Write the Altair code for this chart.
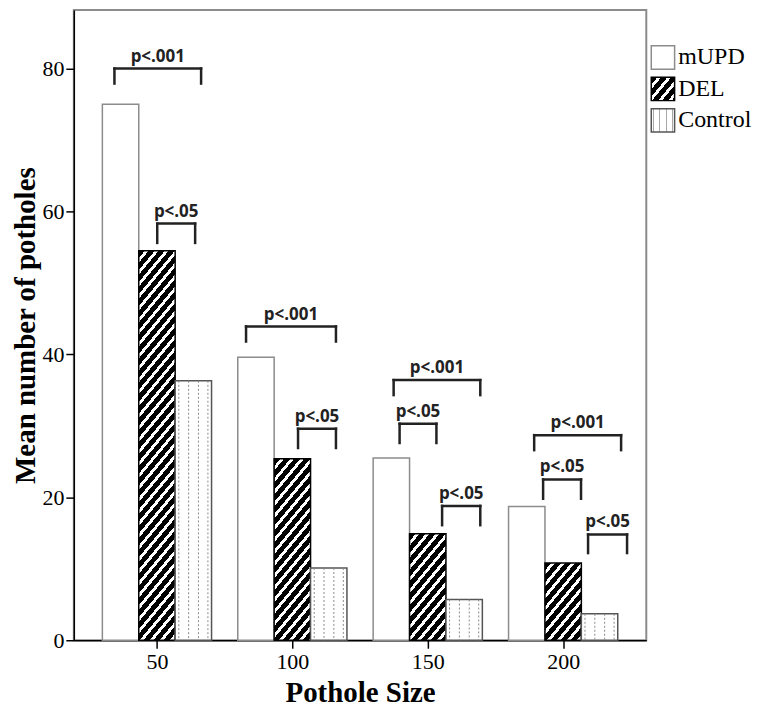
import altair as alt
import pandas as pd

# ---------------- data ----------------
sizes = [50, 100, 150, 200]
series = ["mUPD", "DEL", "Control"]
mupd = [75.0, 39.6, 25.5, 18.7]
deletion = [54.5, 25.4, 14.9, 10.8]
control = [36.3, 10.1, 5.7, 3.7]

# significance brackets (x in pothole-size units, y in mean-count units)
br_labels = ["p<.001", "p<.05", "p<.001", "p<.05", "p<.001", "p<.05", "p<.05", "p<.001", "p<.05", "p<.05"]
br_x1 = [34.3, 50.1, 82.9, 102.1, 137.4, 139.6, 155.3, 189.3, 192.6, 209.2]
br_x2 = [66.3, 64.1, 116.1, 116.1, 169.4, 153.2, 169.4, 221.4, 206.6, 223.6]
br_y = [80.0, 58.3, 43.9, 29.6, 36.4, 30.3, 18.8, 28.7, 22.5, 14.8]
br_leg = [77.9, 55.6, 41.8, 26.9, 34.3, 27.6, 16.1, 26.6, 19.8, 12.2]

# ---------------- layout / style ----------------
W, H = 574, 632
XDOM = [19.3, 230.7]
YDOM = [0, 88.2]
PX_X = W / (XDOM[1] - XDOM[0])
PX_Y = H / (YDOM[1] - YDOM[0])
BAR_W = 13.44
SERIF = "Liberation Serif"
LEG_SQ = 23.4


def stripe_grad(w, h, s=1.2, q=12.0, black_frac=0.62):
    """Diagonal '/' black/white stripes as a linear gradient in bbox units."""
    total = s * w + h
    k = total / (s * s * w * w + h * h)
    x2 = k * s * w
    y2 = k * h
    n = total / q
    stops = []
    i = 0
    while i < n:
        a = min(i / n, 1)
        b = min((i + black_frac) / n, 1)
        c = min((i + 1) / n, 1)
        stops += [{"offset": round(a, 5), "color": "black"}, {"offset": round(b, 5), "color": "black"}]
        if b < 1:
            stops += [{"offset": round(b, 5), "color": "white"}, {"offset": round(c, 5), "color": "white"}]
        i += 1
    return {"gradient": "linear", "x1": 0, "y1": 0, "x2": round(x2, 5), "y2": round(y2, 5), "stops": stops}


def vline_grad(w, fracs=(0.1, 0.37, 0.64, 0.9), color="#a8a8a8"):
    stops = [{"offset": 0, "color": "white"}]
    lw = 1.0 / w
    for f in fracs:
        stops += [{"offset": round(f - lw / 2, 4), "color": "white"},
                  {"offset": round(f - lw / 2, 4), "color": color},
                  {"offset": round(f + lw / 2, 4), "color": color},
                  {"offset": round(f + lw / 2, 4), "color": "white"}]
    stops.append({"offset": 1, "color": "white"})
    return {"gradient": "linear", "x1": 0, "y1": 0, "x2": 1, "y2": 0, "stops": stops}


values = {"mUPD": mupd, "DEL": deletion, "Control": control}
rows = []
for j, s in enumerate(series):
    for i, sz in enumerate(sizes):
        x0 = sz + (j - 1.5) * BAR_W
        rows.append({"series": s, "size": sz, "x0": x0, "x1": x0 + BAR_W, "value": values[s][i]})
bars = pd.DataFrame(rows)

ctrl_rows = []
for i, sz in enumerate(sizes):
    x0 = sz + 0.5 * BAR_W
    for f in (0.1, 0.37, 0.64, 0.9):
        ctrl_rows.append({"x": x0 + f * BAR_W, "value": control[i]})
ctrl_lines = pd.DataFrame(ctrl_rows)

br = pd.DataFrame({"label": br_labels, "x1": br_x1, "x2": br_x2, "y": br_y, "leg": br_leg})
br["xm"] = (br["x1"] + br["x2"]) / 2
legs = pd.DataFrame({"x": br_x1 + br_x2, "lo": br_leg + br_leg, "hi": br_y + br_y})

x_axis = alt.Axis(values=sizes, title="Pothole Size", grid=False, format="d")
y_axis = alt.Axis(values=[0, 20, 40, 60, 80], title="Mean number of potholes", grid=False)


def X(f):
    return alt.X(f, scale=alt.Scale(domain=XDOM, nice=False, zero=False), axis=x_axis)


def Y(f):
    return alt.Y(f, scale=alt.Scale(domain=YDOM, nice=False), axis=y_axis)


base = alt.Chart(bars)
layers = []
layers.append(
    base.transform_filter(alt.datum.series == "mUPD")
    .mark_rect(fill="white", stroke="#8c8c8c", strokeWidth=1.5)
    .encode(x=X("x0:Q"), x2="x1:Q", y=Y("value:Q"), y2=alt.datum(0))
)
for i, sz in enumerate(sizes):
    g = stripe_grad(BAR_W * PX_X, deletion[i] * PX_Y)
    layers.append(
        base.transform_filter((alt.datum.series == "DEL") & (alt.datum.size == sz))
        .mark_rect(fill=g, stroke="black", strokeWidth=1.5)
        .encode(x=X("x0:Q"), x2="x1:Q", y=Y("value:Q"), y2=alt.datum(0))
    )
layers.append(
    base.transform_filter(alt.datum.series == "Control")
    .mark_rect(fill="white", stroke="#555555", strokeWidth=1.5)
    .encode(x=X("x0:Q"), x2="x1:Q", y=Y("value:Q"), y2=alt.datum(0))
)
layers.append(
    alt.Chart(ctrl_lines)
    .mark_rule(color="#8a8a8a", strokeDash=[2, 2], strokeWidth=1)
    .encode(x=X("x:Q"), y=Y("value:Q"), y2=alt.datum(0))
)
layers.append(
    alt.Chart(br).mark_rule(color="#222222", strokeWidth=2.5, strokeCap="square")
    .encode(x=X("x1:Q"), x2="x2:Q", y=Y("y:Q"))
)
layers.append(
    alt.Chart(legs).mark_rule(color="#222222", strokeWidth=2.5, strokeCap="square")
    .encode(x=X("x:Q"), y=Y("lo:Q"), y2="hi:Q")
)
layers.append(
    alt.Chart(br).mark_text(font="Open Sans", fontWeight="bold", fontSize=17, color="#222222",
                            baseline="alphabetic", dy=-7)
    .encode(x=X("xm:Q"), y=Y("y:Q"), text="label:N")
)

main = alt.layer(*layers).properties(
    width=W, height=H, view=alt.ViewBackground(stroke="#8c8c8c", strokeWidth=2)
)

# ---------------- custom legend (patterned swatches) ----------------
leg_df = pd.DataFrame({"series": series})
ly = alt.Y("series:N", scale=alt.Scale(domain=series, range=[36, 122.5], paddingInner=0.26, paddingOuter=0),
           axis=None)
lb = alt.Chart(leg_df)
leg_layers = [
    lb.transform_filter(alt.datum.series == "mUPD")
    .mark_rect(fill="white", stroke="#8c8c8c", strokeWidth=1.5)
    .encode(y=ly, x=alt.value(4), x2=alt.value(4 + LEG_SQ)),
    lb.transform_filter(alt.datum.series == "DEL")
    .mark_rect(fill=stripe_grad(LEG_SQ, LEG_SQ), stroke="black", strokeWidth=1.5)
    .encode(y=ly, x=alt.value(4), x2=alt.value(4 + LEG_SQ)),
    lb.transform_filter(alt.datum.series == "Control")
    .mark_rect(fill=vline_grad(LEG_SQ), stroke="#555555", strokeWidth=1.5)
    .encode(y=ly, x=alt.value(4), x2=alt.value(4 + LEG_SQ)),
    lb.mark_text(font=SERIF, fontSize=24, align="left", baseline="middle", color="black")
    .encode(y=ly, x=alt.value(31), text="series:N"),
]
legend = alt.layer(*leg_layers).properties(width=101, height=H, view=alt.ViewBackground(strokeWidth=0))

chart = (
    alt.hconcat(main, legend, spacing=0)
    .properties(padding={"left": 3, "top": 0, "right": 0, "bottom": 0}, background="white")
    .configure_view(stroke=None)
    .configure_axis(
        labelFont=SERIF, labelFontSize=22, labelColor="black",
        titleFont=SERIF, titleFontSize=29, titleFontWeight="bold", titleColor="black",
        domainColor="black", domainWidth=1.5, tickColor="black", tickWidth=1.5, tickSize=8,
        grid=False,
    )
    .configure_axisX(labelPadding=3, titlePadding=6)
    .configure_axisY(labelPadding=2, titlePadding=1)
)

chart.save("out.html", embed_options={"renderer": "svg", "actions": False})
